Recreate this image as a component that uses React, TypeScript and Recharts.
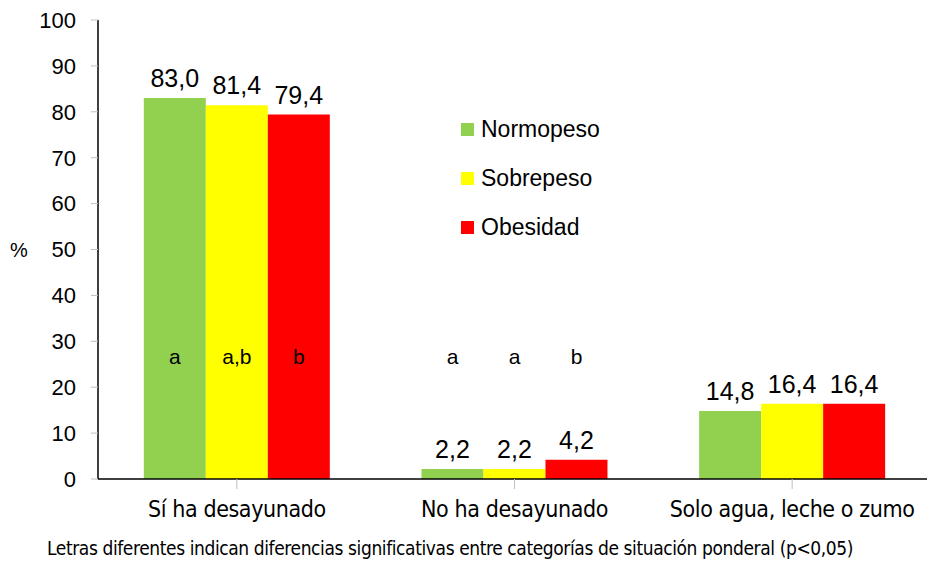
import React from "react";
import { BarChart, Bar, XAxis, YAxis, LabelList } from "recharts";

const categories = ["Sí ha desayunado", "No ha desayunado", "Solo agua, leche o zumo"];
const normopeso = [83.0, 2.2, 14.8];
const sobrepeso = [81.4, 2.2, 16.4];
const obesidad = [79.4, 4.2, 16.4];
const letrasNormo = ["a", "a", ""];
const letrasSobre = ["a,b", "a", ""];
const letrasObes = ["b", "b", ""];
const letterLevel = 26.6;
const yTicks = [0, 10, 20, 30, 40, 50, 60, 70, 80, 90, 100];

const seriesInfo = [
  { key: "normo", name: "Normopeso", color: "#92D050", letters: "lNormo" },
  { key: "sobre", name: "Sobrepeso", color: "#FFFF00", letters: "lSobre" },
  { key: "obes", name: "Obesidad", color: "#FF0000", letters: "lObes" },
];

const data = categories.map((c, i) => ({
  cat: c,
  normo: normopeso[i],
  sobre: sobrepeso[i],
  obes: obesidad[i],
  lNormo: letrasNormo[i],
  lSobre: letrasSobre[i],
  lObes: letrasObes[i],
}));

const SANS = "'Liberation Sans', Arial, sans-serif";
const NARROW = "'DejaVu Sans Condensed', 'Liberation Sans', sans-serif";

const fmt = (v: number) => v.toFixed(1).replace(".", ",");

const makeLetterContent = (vals: number[]) => (props: any) => {
  const { x, y, width, height, value, index } = props;
  if (!value) return null;
  const v = vals[index];
  const ppu = height / v;
  const ly = y + height - letterLevel * ppu;
  return (
    <text x={x + width / 2} y={ly} textAnchor="middle" dominantBaseline="central" fontFamily={SANS} fontSize={21} fill="#000">
      {value}
    </text>
  );
};

const valsByKey: Record<string, number[]> = { normo: normopeso, sobre: sobrepeso, obes: obesidad };

export default function App() {
  return (
    <div style={{ position: "absolute", left: 0, top: 0, width: 927, height: 563, overflow: "hidden", background: "#fff" }}>
      <BarChart
        width={931}
        height={563}
        data={data}
        margin={{ top: 20, right: 0, bottom: 0, left: 0 }}
        barCategoryGap="16.5%"
        barGap={0}
      >
        <XAxis
          dataKey="cat"
          tickLine={{ stroke: "#bfbfbf" }}
          tickSize={10}
          axisLine={{ stroke: "#000", strokeWidth: 1.5 }}
          interval={0}
          tick={(p: any) => (
            <text x={p.payload.coordinate} y={p.y + 18} textAnchor="middle" dominantBaseline="central" fontFamily={NARROW} fontSize={23} letterSpacing={-0.4} fill="#000">
              {p.payload.value}
            </text>
          )}
          height={84}
        />
        <YAxis
          domain={[0, 100]}
          ticks={yTicks}
          width={98}
          tickSize={7}
          tickMargin={15}
          tickLine={{ stroke: "#bfbfbf" }}
          axisLine={{ stroke: "#000", strokeWidth: 1.5 }}
          tick={{ fontFamily: SANS, fontSize: 22, fill: "#000" }}
          label={{ value: "%", position: "insideLeft", offset: 10, style: { fontFamily: SANS, fontSize: 20, fill: "#000" } }}
        />
        {seriesInfo.map((s) => (
          <Bar key={s.key} dataKey={s.key} name={s.name} fill={s.color} isAnimationActive={false}>
            <LabelList
              dataKey={s.key}
              position="top"
              offset={11}
              formatter={(v: any) => fmt(Number(v))}
              style={{ fontFamily: SANS, fontSize: 25, fill: "#000" }}
            />
            <LabelList dataKey={s.letters} content={makeLetterContent(valsByKey[s.key])} />
          </Bar>
        ))}
      </BarChart>
      <div style={{ position: "absolute", left: 461, top: 105, fontFamily: SANS, fontSize: 23, color: "#000" }}>
        {seriesInfo.map((s) => (
          <div key={s.key} style={{ display: "flex", alignItems: "center", height: 49 }}>
            <span style={{ display: "inline-block", width: 13, height: 13, background: s.color, marginRight: 7 }} />
            <span>{s.name}</span>
          </div>
        ))}
      </div>
      <div style={{ position: "absolute", left: 47, top: 537, fontFamily: NARROW, fontSize: 19, letterSpacing: -0.4, color: "#000", whiteSpace: "nowrap" }}>
        Letras diferentes indican diferencias significativas entre categorías de situación ponderal (p&lt;0,05)
      </div>
    </div>
  );
}
